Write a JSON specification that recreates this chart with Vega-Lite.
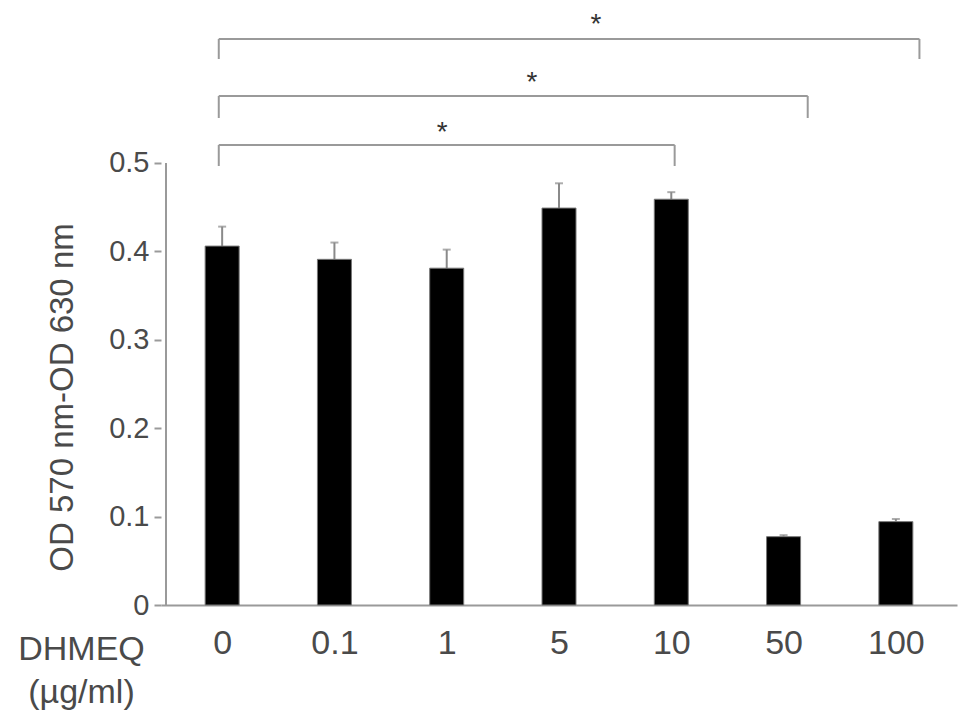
{
  "$schema": "https://vega.github.io/schema/vega-lite/v6.json",
  "width": 796,
  "height": 600,
  "autosize": {"type": "none"},
  "padding": {"left": 161, "top": 5, "right": 12, "bottom": 114},
  "config": {
    "view": {"stroke": null},
    "font": "Liberation Sans",
    "axis": {"labelFont": "Liberation Sans", "titleFont": "Liberation Sans", "labelColor": "#4a4a4a", "titleColor": "#4a4a4a", "titleFontWeight": "normal", "grid": false}
  },
  "datasets": {
    "bars": [
      {"dose": "0", "idx": 0, "od": 0.406, "upper": 0.428},
      {"dose": "0.1", "idx": 1, "od": 0.391, "upper": 0.410},
      {"dose": "1", "idx": 2, "od": 0.381, "upper": 0.402},
      {"dose": "5", "idx": 3, "od": 0.449, "upper": 0.477},
      {"dose": "10", "idx": 4, "od": 0.459, "upper": 0.467},
      {"dose": "50", "idx": 5, "od": 0.0773, "upper": 0.079},
      {"dose": "100", "idx": 6, "od": 0.0943, "upper": 0.0973}
    ],
    "brackets": [
      {"a": -0.03, "b": 6.21, "y": 0.6403, "y2": 0.6403},
      {"a": -0.03, "b": -0.03, "y": 0.6403, "y2": 0.6176},
      {"a": 6.21, "b": 6.21, "y": 0.6403, "y2": 0.6176},
      {"a": -0.03, "b": 5.215, "y": 0.5758, "y2": 0.5758},
      {"a": -0.03, "b": -0.03, "y": 0.5758, "y2": 0.5509},
      {"a": 5.215, "b": 5.215, "y": 0.5758, "y2": 0.5509},
      {"a": -0.03, "b": 4.03, "y": 0.5204, "y2": 0.5204},
      {"a": -0.03, "b": -0.03, "y": 0.5204, "y2": 0.4966},
      {"a": 4.03, "b": 4.03, "y": 0.5204, "y2": 0.4966}
    ],
    "stars": [
      {"sx": 3.33, "sy": 0.664, "label": "*"},
      {"sx": 2.76, "sy": 0.598, "label": "*"},
      {"sx": 1.96, "sy": 0.542, "label": "*"}
    ],
    "yaxisline": [{"ax": -0.5, "y0": 0, "y1": 0.5}]
  },
  "layer": [
    {
      "data": {"name": "yaxisline"},
      "mark": {"type": "rule", "color": "#9a9a9a", "strokeWidth": 2},
      "encoding": {
        "x": {"field": "ax", "type": "quantitative", "scale": {"domain": [-0.5, 6.5], "nice": false, "zero": false},
          "axis": {"values": [0, 1, 2, 3, 4, 5, 6], "title": ["DHMEQ", "(µg/ml)"], "labelExpr": "['0','0.1','1','5','10','50','100'][datum.value]", "labelFontSize": 34, "labelPadding": 21, "ticks": false, "domainColor": "#9a9a9a", "domainWidth": 2, "titleFontSize": 34, "titleX": -80, "titleY": 54, "titleAlign": "center", "titleBaseline": "alphabetic", "titleLineHeight": 43}},
        "y": {"field": "y0", "type": "quantitative", "scale": {"domain": [0, 0.6787], "nice": false},
          "axis": {"values": [0, 0.1, 0.2, 0.3, 0.4, 0.5], "labelExpr": "datum.value == 0 ? '0' : format(datum.value, '.1f')", "domain": false, "tickColor": "#9a9a9a", "tickWidth": 2, "tickSize": 7, "labelFontSize": 29, "labelPadding": 5, "title": "OD 570 nm-OD 630 nm", "titleFontSize": 33, "titleAngle": -90, "titleX": -89, "titleY": 392, "titleAlign": "center", "titleBaseline": "alphabetic"}},
        "y2": {"field": "y1"}
      }
    },
    {
      "data": {"name": "bars"},
      "mark": {"type": "rule", "color": "#8a8a8a", "strokeWidth": 2},
      "encoding": {
        "x": {"field": "idx", "type": "quantitative"},
        "y": {"field": "od", "type": "quantitative"},
        "y2": {"field": "upper"}
      }
    },
    {
      "data": {"name": "bars"},
      "mark": {"type": "tick", "orient": "horizontal", "color": "#8a8a8a", "size": 8, "thickness": 2},
      "encoding": {
        "x": {"field": "idx", "type": "quantitative"},
        "y": {"field": "upper", "type": "quantitative"}
      }
    },
    {
      "data": {"name": "bars"},
      "mark": {"type": "bar", "size": 34, "color": "#000000", "stroke": "#777777", "strokeWidth": 1},
      "encoding": {
        "x": {"field": "idx", "type": "quantitative"},
        "y": {"field": "od", "type": "quantitative"}
      }
    },
    {
      "data": {"name": "brackets"},
      "mark": {"type": "rule", "color": "#9a9a9a", "strokeWidth": 2},
      "encoding": {
        "x": {"field": "a", "type": "quantitative"},
        "x2": {"field": "b"},
        "y": {"field": "y", "type": "quantitative"},
        "y2": {"field": "y2"}
      }
    },
    {
      "data": {"name": "stars"},
      "mark": {"type": "text", "fontSize": 28, "color": "#333333", "baseline": "middle", "dy": 7},
      "encoding": {
        "x": {"field": "sx", "type": "quantitative"},
        "y": {"field": "sy", "type": "quantitative"},
        "text": {"field": "label"}
      }
    }
  ]
}
